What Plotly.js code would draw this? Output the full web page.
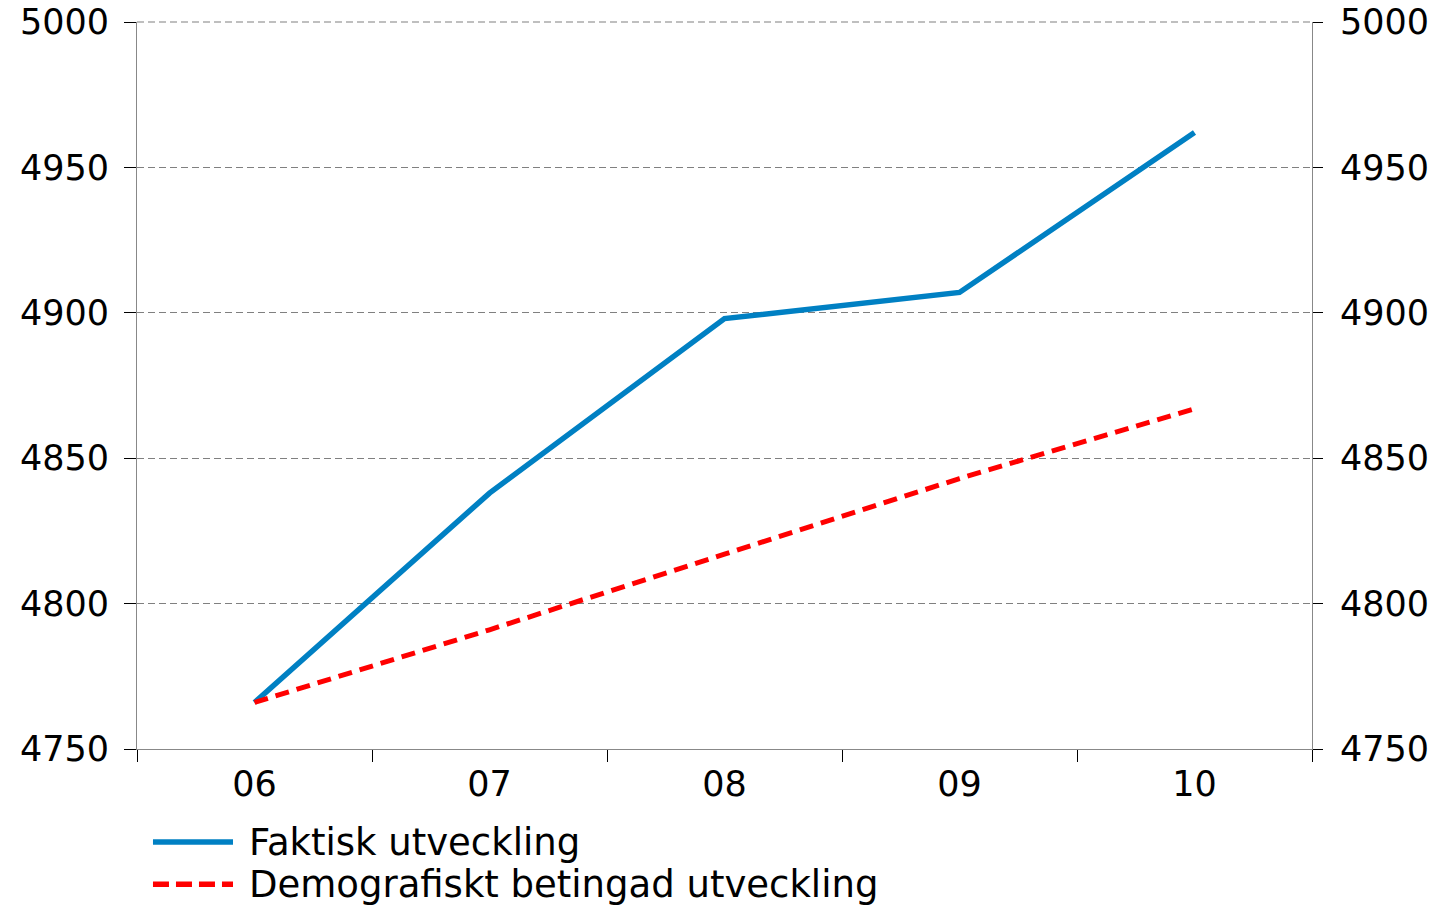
<!DOCTYPE html>
<html>
<head>
<meta charset="utf-8">
<script src="https://cdn.plot.ly/plotly-3.0.1.min.js"></script>
<style>html,body{margin:0;padding:0;background:#fff;}#chart{width:1441px;height:907px;}</style>
</head>
<body>
<div id="chart"></div>
<script>
const years = ["06", "07", "08", "09", "10"];
const faktisk = [4766, 4838, 4898, 4907, 4962];
const demografiskt = [4766, 4791, 4817, 4843, 4867];
const seriesNames = ["Faktisk utveckling", "Demografiskt betingad utveckling"];
const yTicks = [4750, 4800, 4850, 4900, 4950, 5000];

const FONT = "DejaVu Sans, Verdana, sans-serif";
const blue = "#0080C3";
const red = "#FF0000";

const traces = [
  {x: years, y: faktisk, type: "scatter", mode: "lines", name: seriesNames[0],
   line: {color: blue, width: 5.5}, showlegend: false, hoverinfo: "skip"},
  {x: years, y: demografiskt, type: "scatter", mode: "lines", name: seriesNames[1],
   line: {color: red, width: 5, dash: "14px,8px"}, showlegend: false, hoverinfo: "skip"},
  // carrier for the right-hand axis (invisible)
  {x: years, y: faktisk, type: "scatter", mode: "lines", yaxis: "y2",
   line: {color: "rgba(0,0,0,0)", width: 0}, opacity: 0, showlegend: false, hoverinfo: "skip"}
];

const layout = {
  width: 1441, height: 907,
  margin: {l: 137, r: 129, t: 22, b: 158},
  paper_bgcolor: "#fff", plot_bgcolor: "#fff",
  font: {family: FONT, size: 35, color: "#000"},
  xaxis: {
    type: "category", tickson: "boundaries", range: [-0.5, 4.5],
    ticks: "outside", ticklen: 12, tickcolor: "#000", tickwidth: 1,
    showline: true, linecolor: "#888", linewidth: 1,
    showgrid: false, zeroline: false, ticklabelstandoff: 4,
    tickfont: {family: FONT, size: 35}
  },
  yaxis: {
    range: [4750, 5000], tickvals: yTicks,
    ticks: "outside", ticklen: 12, tickcolor: "#000", tickwidth: 1,
    showline: true, linecolor: "#888", linewidth: 1,
    showgrid: true, gridcolor: "#808080", griddash: "7px,4px", gridwidth: 1.2,
    zeroline: false, ticklabelstandoff: 8, tickfont: {family: FONT, size: 35}
  },
  yaxis2: {
    overlaying: "y", side: "right",
    range: [4750, 5000], tickvals: yTicks,
    ticks: "outside", ticklen: 10, tickcolor: "#000", tickwidth: 1,
    showline: true, linecolor: "#888", linewidth: 1,
    showgrid: false, zeroline: false, ticklabelstandoff: 10,
    tickfont: {family: FONT, size: 35}
  },
  shapes: [
    {type: "line", xref: "paper", yref: "paper", x0: 0, x1: 1, y0: 1, y1: 1,
     line: {color: "#808080", width: 1.2, dash: "7px,4px"}},
    {type: "line", xref: "paper", yref: "paper", x0: 0.0136, x1: 0.0817, y0: -0.128, y1: -0.128,
     line: {color: blue, width: 5.5}},
    {type: "line", xref: "paper", yref: "paper", x0: 0.0136, x1: 0.0817, y0: -0.186, y1: -0.186,
     line: {color: red, width: 5.5, dash: "16px,7px"}}
  ],
  annotations: [
    {xref: "paper", yref: "paper", x: 0.094, y: -0.129, xanchor: "left", yanchor: "middle",
     text: seriesNames[0], showarrow: false, font: {family: FONT, size: 37, color: "#000"}},
    {xref: "paper", yref: "paper", x: 0.094, y: -0.187, xanchor: "left", yanchor: "middle",
     text: seriesNames[1], showarrow: false, font: {family: FONT, size: 37, color: "#000"}}
  ]
};

Plotly.newPlot("chart", traces, layout, {displayModeBar: false, staticPlot: true});
</script>
</body>
</html>
